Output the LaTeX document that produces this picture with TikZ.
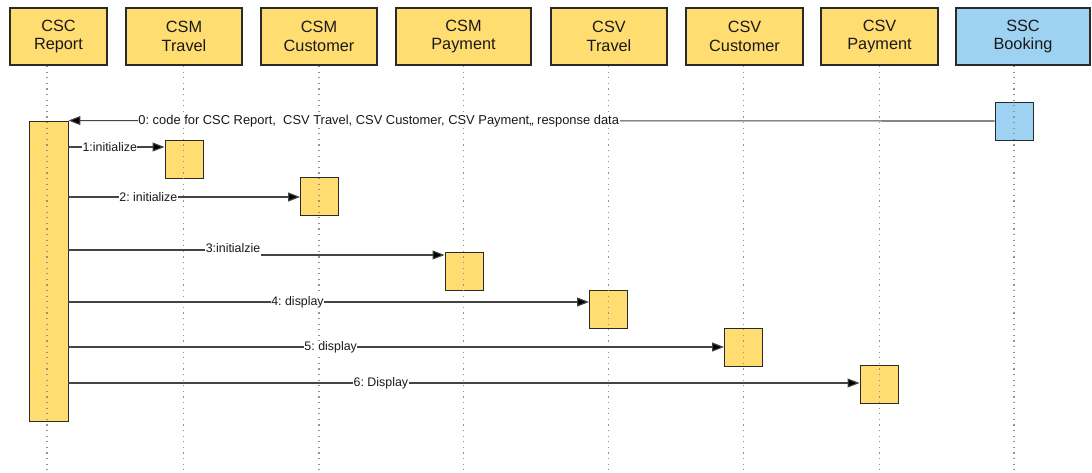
\documentclass[tikz,border=0pt]{standalone}
\usepackage{fontspec}
\setmainfont{Liberation Sans}
\usetikzlibrary{arrows.meta}
\definecolor{ylw}{HTML}{FFDD71}
\definecolor{sky}{HTML}{9DD2F2}
\definecolor{edge}{HTML}{2A2A2A}
\definecolor{wire}{HTML}{444444}
\frenchspacing
\tikzset{
  head/.style={rectangle, draw=edge, line width=1.4pt, fill=ylw, align=center,
    inner sep=0pt, minimum height=57pt, text=black!90, font=\fontsize{16.3}{18.5}\selectfont},
  act/.style={rectangle, draw=edge, line width=0.9pt, fill=ylw, inner sep=0pt,
    minimum width=38pt, minimum height=38pt},
  life/.style={draw=gray!85, line width=1.2pt, dash pattern=on 1.2pt off 4.4pt},
  msg/.style={draw=wire, line width=1.1pt, -{Triangle[length=12pt,width=9pt,fill=black]}},
  wireline/.style={draw=wire, line width=1.1pt},
  lbl/.style={fill=white, inner sep=0.5pt, text=black!90, font=\fontsize{12.4}{14}\selectfont}
}
\begin{document}
\begin{tikzpicture}[x=1pt,y=-1pt]
\useasboundingbox (0,0) rectangle (1092,472);

% participants
\node[head, minimum width=97pt]  (csc)  at (58.5,36.5)  {CSC\\Report};
\node[head, minimum width=116pt] (smt)  at (184,36.5)   {CSM\\Travel};
\node[head, minimum width=116pt] (smc)  at (319,36.5)   {CSM\\Customer};
\node[head, minimum width=135pt] (smp)  at (463.5,36.5) {CSM\\Payment};
\node[head, minimum width=116pt] (svt)  at (609,36.5)   {CSV\\Travel};
\node[head, minimum width=117pt] (svc)  at (744.5,36.5) {CSV\\Customer};
\node[head, minimum width=117pt] (svp)  at (879.5,36.5) {CSV\\Payment};
\node[head, minimum width=134pt, fill=sky] (ssc) at (1023,36.5) {SSC\\Booking};

% activation bars
\node[act, minimum width=39pt, minimum height=300pt] (bar) at (48.5,271) {};
\node[act, fill=sky] (a0) at (1014,121) {};
\node[act] (a1) at (184,159) {};
\node[act] (a2) at (319.5,196.5) {};
\node[act] (a3) at (464,271.5) {};
\node[act] (a4) at (608.5,309) {};
\node[act] (a5) at (743.5,347) {};
\node[act] (a6) at (879,384.5) {};

% lifelines, drawn over the bars
\foreach \n/\x in {csc/47, smt/183.5, smc/319, smp/463.5, svt/608.5, svc/743.5, svp/879.5, ssc/1014}{
  \coordinate (\n-top) at (\x,66);
  \coordinate (\n-end) at (\x,472);
  \draw[life] (\n-top) -- (\n-end);
}

% messages
\draw[msg] (a0.west) -- node[lbl, pos=0.665, font=\fontsize{12.9}{14}\selectfont] {0: code for CSC Report,\ \ CSV Travel, CSV Customer, CSV Payment,, response data} (bar.north east);
\draw[msg] (bar.east |- 0,147) -- node[lbl, pos=0.43] {1:initialize} (a1.west |- 0,147);
\draw[msg] (bar.east |- 0,197) -- node[lbl, pos=0.345] {2: initialize} (a2.west |- 0,197);
\node[lbl] (m3) at (233,248) {3:initialzie};
\draw[wireline] (bar.east |- 0,250) -- (m3.west |- 0,250);
\draw[msg] (m3.east |- 0,255) -- (a3.west |- 0,255);
\draw[msg] (bar.east |- 0,302) -- node[lbl, pos=0.44] {4: display} (a4.west |- 0,302);
\draw[msg] (bar.east |- 0,347) -- node[lbl, pos=0.40] {5: display} (a5.west |- 0,347);
\draw[msg] (bar.east |- 0,383) -- node[lbl, pos=0.395] {6: Display} (a6.west |- 0,383);
\end{tikzpicture}
\end{document}
